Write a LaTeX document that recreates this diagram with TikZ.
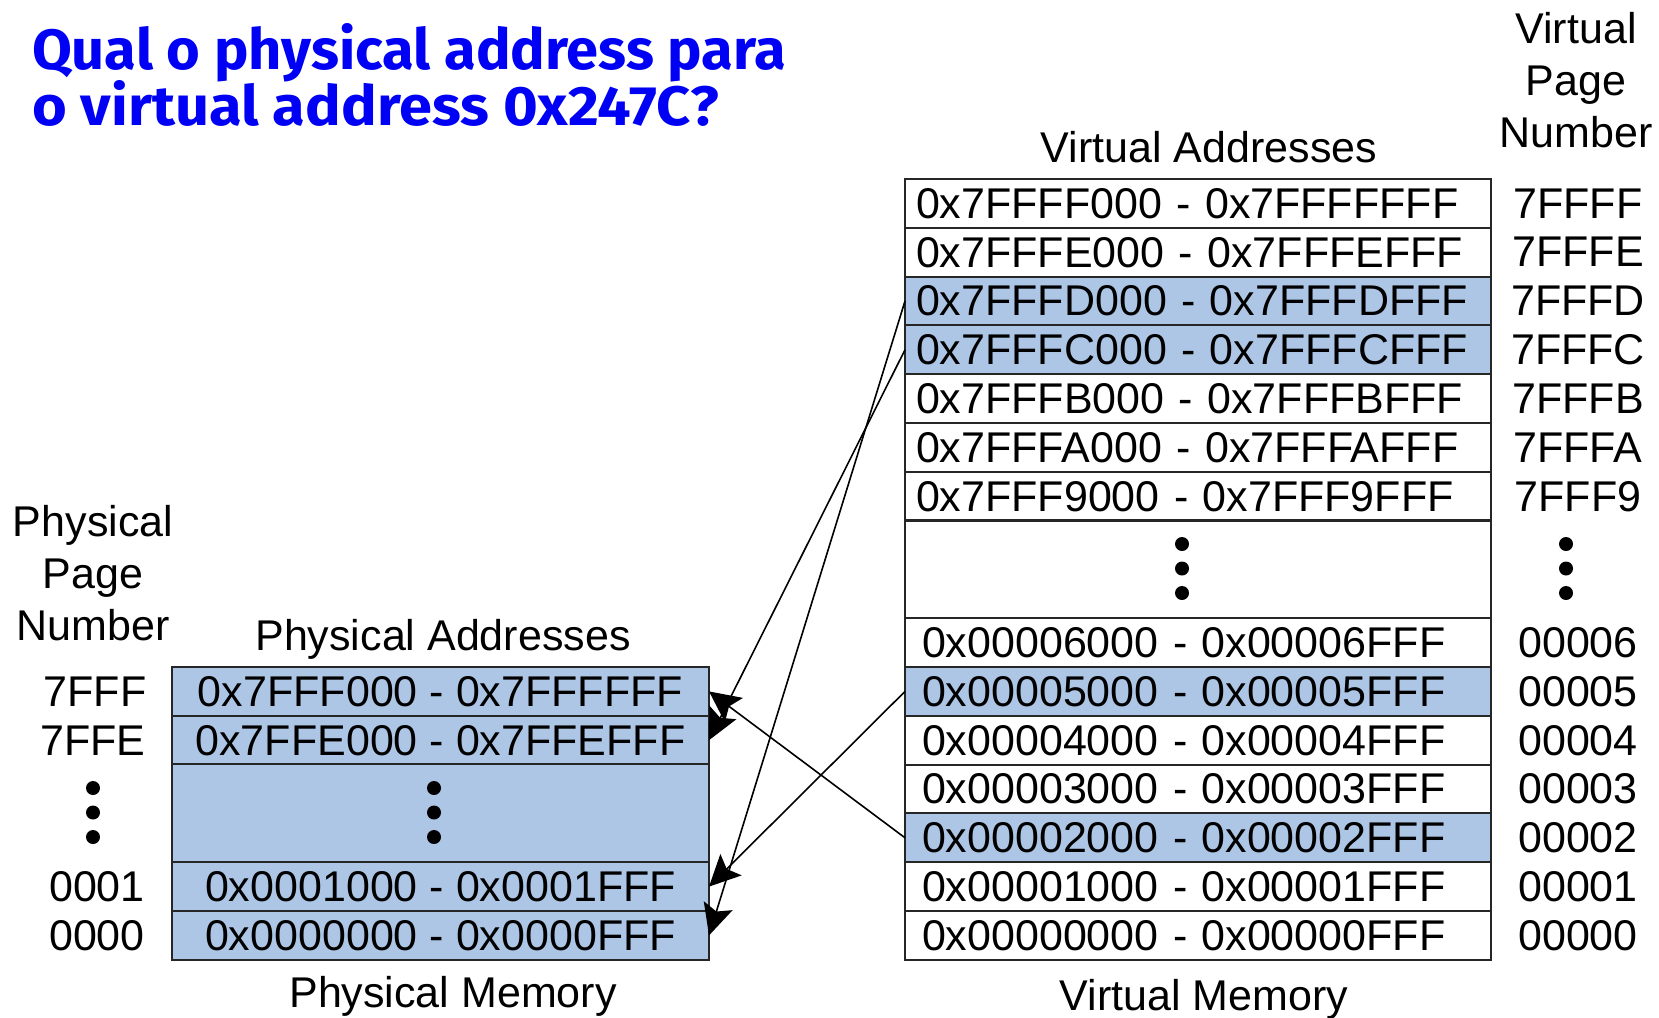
\documentclass[tikz,border=0pt]{standalone}
\usepackage{graphicx}
\usepackage{fontspec}
\setmainfont{Liberation Sans}
\newfontfamily\titlefont{Fira Sans}
\usetikzlibrary{arrows.meta}
\definecolor{memblue}{RGB}{174,198,230}
\definecolor{ttlblue}{RGB}{0,0,245}
\begin{document}
\begin{tikzpicture}[x=1pt,y=-1pt,
  every node/.style={inner sep=0pt, outer sep=0pt},
  lbl/.style={font=\fontsize{43}{52}\selectfont},
  vrow/.style={draw=black!85, line width=2pt, minimum width=586pt, minimum height=48.8pt, lbl,
               inner xsep=11pt, text width=564pt, align=left},
  vlow/.style={vrow, inner xsep=17pt, text width=552pt},
  prow/.style={draw=black!85, line width=2pt, minimum width=537pt, minimum height=48.8pt, lbl, fill=memblue},
  hi/.style={fill=memblue},
  map/.style={line width=1.6pt, -{Stealth[length=31pt,width=30pt,inset=6pt]}},
  ttl/.style={anchor=base west, text=ttlblue}
]
\useasboundingbox (0,0) rectangle (1659,1017);

% title
\node[ttl] (t1) at (32,69) {\resizebox{754pt}{46pt}{\titlefont\bfseries Qual o physical address para}};
\node[ttl] (t2) at (32,125) {\resizebox{687pt}{45pt}{\titlefont\bfseries o virtual address 0x247C?}};

% virtual memory
\node[vrow] (v7FFFF) at (1198,203.4) {0x7FFFF000 - 0x7FFFFFFF};
\node[vrow] (v7FFFE) at (1198,252.2) {0x7FFFE000 - 0x7FFFEFFF};
\node[vrow,hi] (v7FFFD) at (1198,301.0) {0x7FFFD000 - 0x7FFFDFFF};
\node[vrow,hi] (v7FFFC) at (1198,349.8) {0x7FFFC000 - 0x7FFFCFFF};
\node[vrow] (v7FFFB) at (1198,398.6) {0x7FFFB000 - 0x7FFFBFFF};
\node[vrow] (v7FFFA) at (1198,447.4) {0x7FFFA000 - 0x7FFFAFFF};
\node[vrow] (v7FFF9) at (1198,496.2) {0x7FFF9000 - 0x7FFF9FFF};
\node[vrow, minimum height=97.6pt] (vdots) at (1198,569) {};
\node[vlow] (v00006) at (1198,642.6) {0x00006000 - 0x00006FFF};
\node[vlow,hi] (v00005) at (1198,691.4) {0x00005000 - 0x00005FFF};
\node[vlow] (v00004) at (1198,740.2) {0x00004000 - 0x00004FFF};
\node[vlow] (v00003) at (1198,789.0) {0x00003000 - 0x00003FFF};
\node[vlow,hi] (v00002) at (1198,837.8) {0x00002000 - 0x00002FFF};
\node[vlow] (v00001) at (1198,886.6) {0x00001000 - 0x00001FFF};
\node[vlow] (v00000) at (1198,935.4) {0x00000000 - 0x00000FFF};

% virtual page numbers
\node[lbl] (n7FFFF) at (1578,203.4) {7FFFF};
\node[lbl] (n7FFFE) at (1578,252.2) {7FFFE};
\node[lbl] (n7FFFD) at (1578,301.0) {7FFFD};
\node[lbl] (n7FFFC) at (1578,349.8) {7FFFC};
\node[lbl] (n7FFFB) at (1578,398.6) {7FFFB};
\node[lbl] (n7FFFA) at (1578,447.4) {7FFFA};
\node[lbl] (n7FFF9) at (1578,496.2) {7FFF9};
\node[lbl] (n00006) at (1578,642.6) {00006};
\node[lbl] (n00005) at (1578,691.4) {00005};
\node[lbl] (n00004) at (1578,740.2) {00004};
\node[lbl] (n00003) at (1578,789.0) {00003};
\node[lbl] (n00002) at (1578,837.8) {00002};
\node[lbl] (n00001) at (1578,886.6) {00001};
\node[lbl] (n00000) at (1578,935.4) {00000};

% physical memory
\node[prow] (p7FFF) at (440.5,691.4) {0x7FFF000 - 0x7FFFFFF};
\node[prow] (p7FFE) at (440.5,740.2) {0x7FFE000 - 0x7FFEFFF};
\node[prow, minimum height=97.6pt] (pdots) at (440.5,813) {};
\node[prow] (p0001) at (440.5,886.6) {0x0001000 - 0x0001FFF};
\node[prow] (p0000) at (440.5,935.4) {0x0000000 - 0x0000FFF};

% physical page numbers
\node[lbl] (l7FFF) at (95,691.4) {7FFF};
\node[lbl] (l7FFE) at (93,740.2) {7FFE};
\node[lbl] (l0001) at (97,886.6) {0001};
\node[lbl] (l0000) at (97,935.4) {0000};

% dots
\foreach \y in {544,568.5,593} {
  \fill (1182,\y) circle (7pt);
  \fill (1566,\y) circle (7pt);
}
\foreach \y in {788,812.5,837} {
  \fill (434,\y) circle (7pt);
  \fill (93,\y) circle (7pt);
}

% headings
\node[lbl, anchor=base] (vaddr) at (1209,162) {Virtual Addresses};
\node[lbl, align=center, anchor=base] (vpn) at (1576,147) {Virtual\\Page\\Number};
\node[lbl, anchor=base] (vmem) at (1204,1010) {Virtual Memory};
\node[lbl, align=center, anchor=base] (ppn) at (93,640) {Physical\\Page\\Number};
\node[lbl, anchor=base] (paddr) at (443,650) {Physical Addresses};
\node[lbl, anchor=base] (pmem) at (453,1007) {Physical Memory};

% mappings
\draw[map] (v7FFFD.west) -- (p0000.east);
\draw[map] (v7FFFC.west) -- (p7FFE.east);
\draw[map] (v00005.west) -- (p0001.east);
\draw[map] (v00002.west) -- (p7FFF.east);
\end{tikzpicture}
\end{document}
